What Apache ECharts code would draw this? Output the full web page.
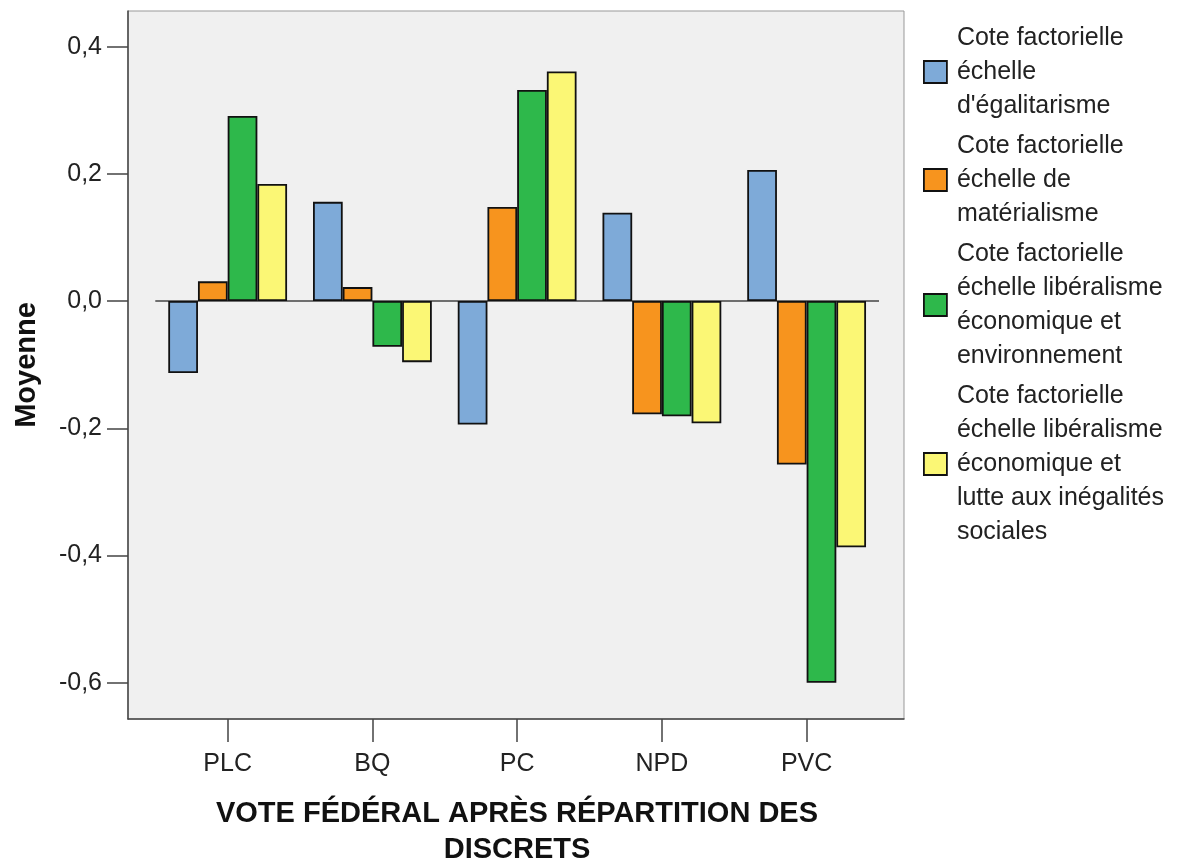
<!DOCTYPE html>
<html>
<head>
<meta charset="utf-8">
<script src="https://cdn.jsdelivr.net/npm/echarts@6/dist/echarts.min.js"></script>
<style>html,body{margin:0;padding:0;background:#fff;}#c{width:1178px;height:863px;}</style>
</head>
<body>
<div id="c"></div>
<script>
const categories = ['PLC', 'BQ', 'PC', 'NPD', 'PVC'];
const seriesNames = [
  "Cote factorielle\néchelle\nd'égalitarisme",
  "Cote factorielle\néchelle de\nmatérialisme",
  "Cote factorielle\néchelle libéralisme\néconomique et\nenvironnement",
  "Cote factorielle\néchelle libéralisme\néconomique et\nlutte aux inégalités\nsociales"
];
const egalitarisme = [-0.113, 0.156, -0.194, 0.139, 0.206];
const materialisme = [0.031, 0.022, 0.148, -0.178, -0.257];
const liberalismeEnv = [0.291, -0.072, 0.332, -0.181, -0.600];
const liberalismeIneg = [0.184, -0.096, 0.361, -0.192, -0.387];
const yTicks = [-0.6, -0.4, -0.2, 0.0, 0.2, 0.4];
const colors = ['#7eaad8', '#f7941e', '#2eb84b', '#fbf775'];

const FONT = "'Liberation Sans', Arial, sans-serif";
const chart = echarts.init(document.getElementById('c'), null, {renderer: 'canvas'});
const yMin = -0.657, yMax = 0.456;
const valuesList = [egalitarisme, materialisme, liberalismeEnv, liberalismeIneg];

const series = valuesList.map((vals, i) => ({
  name: seriesNames[i],
  type: 'bar',
  xAxisIndex: 1,
  yAxisIndex: 1,
  data: vals,
  barWidth: 29.7,
  barGap: '0%',
  itemStyle: {color: colors[i], borderColor: '#111', borderWidth: 1.8},
  emphasis: {disabled: true},
  z: 3,
  markLine: i === 0 ? {
    silent: true, symbol: 'none', label: {show: false},
    lineStyle: {color: '#444', width: 1.5, type: 'solid'},
    data: [{yAxis: 0}], z: 2
  } : undefined
}));

chart.setOption({
  animation: false,
  backgroundColor: '#ffffff',
  textStyle: {fontFamily: FONT},
  grid: [
    {left: 128, right: 274, top: 11, bottom: 144, show: true, backgroundColor: '#f0f0f0', borderColor: '#999', borderWidth: 1},
    {left: 155.3, right: 299, top: 11, bottom: 144}
  ],
  xAxis: [
    {gridIndex: 0, type: 'value', min: 0, max: 1, axisLine: {show: true, onZero: false, lineStyle: {color: '#444', width: 1.5}}, axisTick: {show: false}, axisLabel: {show: false}, splitLine: {show: false}},
    {gridIndex: 1, type: 'category', data: categories, axisLine: {show: false, onZero: false},
      axisTick: {show: true, alignWithLabel: true, length: 23, lineStyle: {color: '#444', width: 1.5}},
      axisLabel: {margin: 33, color: '#222', fontSize: 25, fontFamily: FONT}}
  ],
  yAxis: [
    {gridIndex: 0, type: 'value', min: yMin, max: yMax,
      axisLine: {show: true, onZero: false, lineStyle: {color: '#444', width: 1.5}},
      axisTick: {show: true, length: 21, customValues: yTicks, lineStyle: {color: '#444', width: 1.5}},
      axisLabel: {customValues: yTicks, margin: 26, color: '#222', fontSize: 25, fontFamily: FONT,
        formatter: v => v.toFixed(1).replace('.', ',')},
      splitLine: {show: false}},
    {gridIndex: 1, type: 'value', min: yMin, max: yMax, show: false, splitLine: {show: false}}
  ],
  legend: {
    orient: 'vertical', left: 918, top: 16, itemWidth: 23, itemHeight: 22, itemGap: 6,
    icon: 'rect',
    itemStyle: {borderColor: '#111', borderWidth: 1.8},
    textStyle: {fontSize: 25, lineHeight: 34, color: '#222', fontFamily: FONT, padding: [0, 0, 0, 5]},
    selectedMode: false,
    data: seriesNames
  },
  graphic: [
    {type: 'text', x: 27, y: 365, rotation: Math.PI / 2,
      style: {text: 'Moyenne', font: 'bold 29px ' + FONT, fill: '#111', textAlign: 'center', textVerticalAlign: 'middle'}},
    {type: 'text', x: 517, y: 796,
      style: {text: 'VOTE FÉDÉRAL APRÈS RÉPARTITION DES\nDISCRETS', font: 'bold 29px ' + FONT, fill: '#111', textAlign: 'center', textVerticalAlign: 'top', lineHeight: 36}}
  ],
  series: series
});
</script>
</body>
</html>
